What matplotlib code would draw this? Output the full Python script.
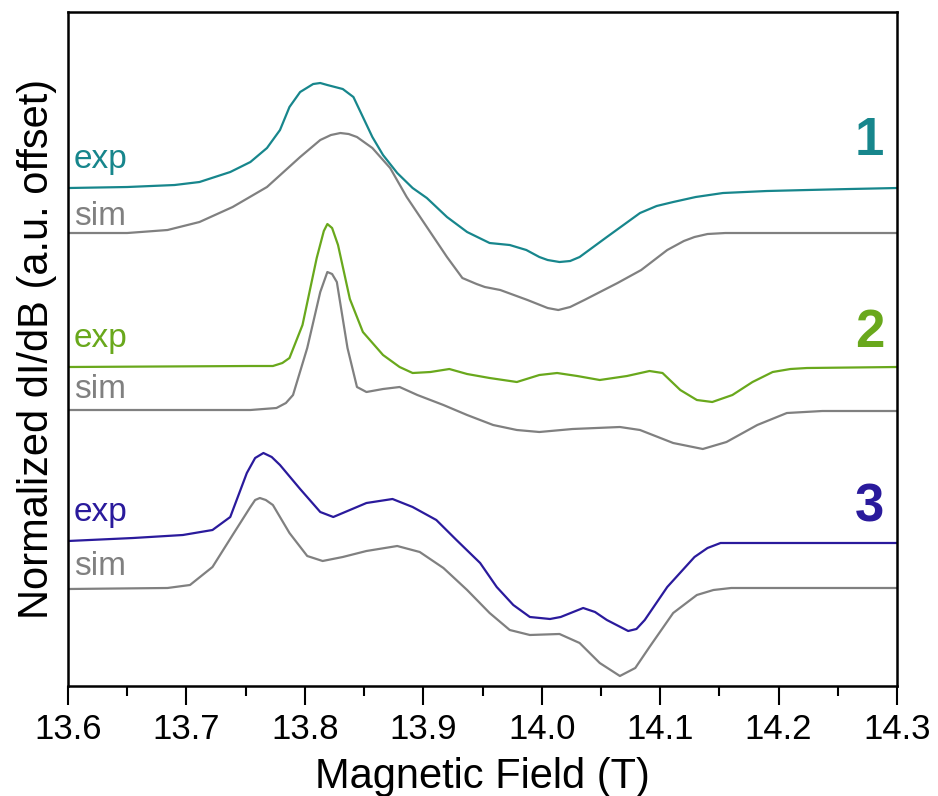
import matplotlib
matplotlib.use("Agg")
import matplotlib.pyplot as plt
from matplotlib.ticker import MultipleLocator

plt.rcParams['font.family'] = ['Liberation Sans', 'DejaVu Sans']

# Sample 1 (teal)
field_exp1 = [13.600, 13.650, 13.690, 13.711, 13.737, 13.754, 13.768, 13.779, 13.787,
              13.796, 13.807, 13.813, 13.819, 13.832, 13.841, 13.849, 13.857, 13.866,
              13.878, 13.891, 13.903, 13.920, 13.937, 13.956, 13.973, 13.987, 13.998,
              14.005, 14.015, 14.024, 14.032, 14.055, 14.083, 14.097, 14.111, 14.130,
              14.153, 14.190, 14.224, 14.260, 14.300]
signal_exp1 = [4.98, 4.99, 5.01, 5.04, 5.14, 5.24, 5.38, 5.56, 5.79,
               5.94, 6.02, 6.03, 6.01, 5.97, 5.89, 5.69, 5.49, 5.31,
               5.13, 4.98, 4.88, 4.69, 4.54, 4.43, 4.41, 4.36, 4.29,
               4.26, 4.24, 4.25, 4.29, 4.49, 4.73, 4.80, 4.84, 4.89,
               4.93, 4.95, 4.96, 4.97, 4.98]
field_sim1 = [13.600, 13.650, 13.684, 13.711, 13.739, 13.768, 13.796, 13.813, 13.822,
              13.830, 13.837, 13.844, 13.857, 13.872, 13.886, 13.903, 13.920, 13.933,
              13.945, 13.952, 13.965, 13.988, 14.005, 14.014, 14.024, 14.036, 14.064,
              14.084, 14.106, 14.120, 14.129, 14.140, 14.155, 14.300]
signal_sim1 = [4.53, 4.53, 4.56, 4.64, 4.79, 4.99, 5.29, 5.46, 5.51,
               5.53, 5.52, 5.49, 5.38, 5.18, 4.89, 4.59, 4.29, 4.08,
               4.02, 3.99, 3.96, 3.86, 3.78, 3.76, 3.79, 3.86, 4.03,
               4.16, 4.36, 4.45, 4.49, 4.52, 4.53, 4.53]

# Sample 2 (green)
field_exp2 = [13.600, 13.754, 13.773, 13.781, 13.787, 13.798, 13.810, 13.816, 13.819,
              13.823, 13.828, 13.838, 13.849, 13.866, 13.880, 13.891, 13.906, 13.922,
              13.937, 13.956, 13.979, 13.998, 14.013, 14.030, 14.049, 14.072, 14.091,
              14.102, 14.117, 14.131, 14.144, 14.161, 14.178, 14.195, 14.210, 14.224,
              14.300]
signal_exp2 = [3.19, 3.20, 3.20, 3.23, 3.28, 3.61, 4.28, 4.55, 4.62,
               4.58, 4.41, 3.87, 3.54, 3.31, 3.19, 3.13, 3.14, 3.17,
               3.12, 3.08, 3.04, 3.11, 3.13, 3.10, 3.06, 3.10, 3.15,
               3.13, 2.96, 2.86, 2.84, 2.91, 3.04, 3.14, 3.17, 3.18,
               3.19]
field_sim2 = [13.600, 13.754, 13.776, 13.784, 13.790, 13.802, 13.813, 13.819, 13.823,
              13.827, 13.836, 13.844, 13.852, 13.866, 13.880, 13.895, 13.917, 13.937,
              13.959, 13.979, 13.998, 14.026, 14.066, 14.083, 14.111, 14.136, 14.156,
              14.182, 14.207, 14.237, 14.300]
signal_sim2 = [2.76, 2.76, 2.78, 2.83, 2.91, 3.38, 3.94, 4.14, 4.12,
               4.04, 3.38, 2.99, 2.94, 2.97, 2.99, 2.91, 2.81, 2.71,
               2.61, 2.56, 2.54, 2.57, 2.59, 2.56, 2.43, 2.37, 2.44,
               2.61, 2.73, 2.75, 2.75]

# Sample 3 (blue)
field_exp3 = [13.600, 13.655, 13.697, 13.722, 13.737, 13.751, 13.758, 13.765, 13.772,
              13.779, 13.796, 13.813, 13.824, 13.836, 13.852, 13.874, 13.891, 13.911,
              13.928, 13.948, 13.962, 13.976, 13.990, 14.007, 14.016, 14.035, 14.045,
              14.055, 14.073, 14.080, 14.087, 14.106, 14.129, 14.140, 14.151, 14.184,
              14.300]
signal_exp3 = [1.45, 1.48, 1.51, 1.56, 1.69, 2.13, 2.28, 2.33, 2.29,
               2.21, 1.97, 1.74, 1.69, 1.75, 1.83, 1.87, 1.79, 1.66,
               1.46, 1.23, 0.99, 0.81, 0.69, 0.67, 0.69, 0.78, 0.74,
               0.66, 0.55, 0.57, 0.66, 0.99, 1.29, 1.38, 1.43, 1.43,
               1.43]
field_sim3 = [13.600, 13.684, 13.703, 13.722, 13.739, 13.754, 13.758, 13.762, 13.767,
              13.773, 13.787, 13.802, 13.815, 13.832, 13.852, 13.878, 13.897, 13.917,
              13.937, 13.956, 13.973, 13.990, 14.015, 14.032, 14.049, 14.066, 14.079,
              14.091, 14.111, 14.131, 14.145, 14.160, 14.300]
signal_sim3 = [0.97, 0.98, 1.01, 1.19, 1.51, 1.79, 1.86, 1.88, 1.86,
               1.81, 1.53, 1.30, 1.25, 1.29, 1.35, 1.40, 1.34, 1.18,
               0.96, 0.73, 0.56, 0.51, 0.52, 0.43, 0.23, 0.10, 0.18,
               0.39, 0.73, 0.91, 0.96, 0.98, 0.98]

colors = ['#17868c', '#69a81c', '#2a1a9c']
gray = '#808080'
sample_ids = ['1', '2', '3']
exp_label_y = [5.18, 3.39, 1.65]
sim_label_y = [4.61, 2.88, 1.11]
num_label_y = [5.31, 3.39, 1.64]

fig = plt.figure(figsize=(9.38, 7.96), dpi=100)
ax = fig.add_axes([0.0725, 0.1382, 0.8838, 0.8467])

exps = [(field_exp1, signal_exp1), (field_exp2, signal_exp2), (field_exp3, signal_exp3)]
sims = [(field_sim1, signal_sim1), (field_sim2, signal_sim2), (field_sim3, signal_sim3)]
for i in range(3):
    ax.plot(*sims[i], color=gray, lw=1.6, solid_joinstyle='round')
    ax.plot(*exps[i], color=colors[i], lw=1.6, solid_joinstyle='round')
    ax.text(13.605, exp_label_y[i], 'exp', color=colors[i], fontsize=24, va='baseline')
    ax.text(13.605, sim_label_y[i], 'sim', color=gray, fontsize=24, va='baseline')
    ax.text(14.277, num_label_y[i], sample_ids[i], color=colors[i], fontsize=38,
            fontweight='bold', ha='center', va='baseline')

ax.set_xlim(13.6, 14.3)
ax.set_ylim(0, 6.74)
ax.xaxis.set_minor_locator(MultipleLocator(0.05))
ax.set_xticks([13.6, 13.7, 13.8, 13.9, 14.0, 14.1, 14.2, 14.3])
ax.set_xticklabels(['13.6', '13.7', '13.8', '13.9', '14.0', '14.1', '14.2', '14.3'])
ax.set_yticks([])
ax.tick_params(axis='x', which='major', direction='out', length=13.5, width=1.5,
               labelsize=25, pad=6)
ax.tick_params(axis='x', which='minor', direction='out', length=7, width=1.5)
for s in ax.spines.values():
    s.set_linewidth(1.8)

ax.set_xlabel('Magnetic Field (T)', fontsize=30, labelpad=8)
ax.set_ylabel('Normalized dI/dB (a.u. offset)', fontsize=30, labelpad=8)

fig.savefig('out.png', dpi=100)
